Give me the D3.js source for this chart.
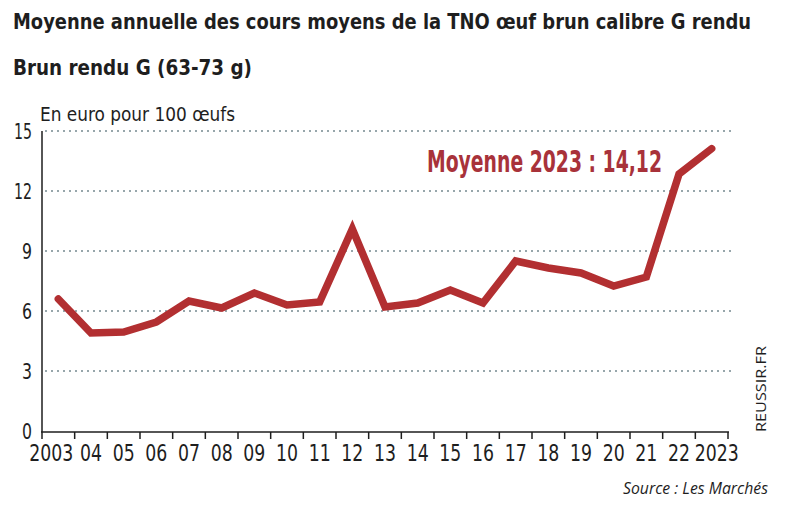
<!DOCTYPE html>
<html>
<head>
<meta charset="utf-8">
<script src="https://cdn.jsdelivr.net/npm/d3@7"></script>
<style>
  body { margin: 0; background: #fff; }
  svg { display: block; }
</style>
</head>
<body>
<div id="chart"></div>
<script>
const years = d3.range(2003, 2024);
const prices = [6.6, 4.9, 4.95, 5.45, 6.5, 6.15, 6.9, 6.3, 6.45, 10.1, 6.2, 6.4, 7.05, 6.4, 8.5, 8.15, 7.9, 7.25, 7.7, 12.85, 14.12];
const yTicks = [0, 3, 6, 9, 12, 15];

const W = 800, H = 529;
const lineColor = "#b22f31";
const textColor = "#1e1e1e";
const fontCond = '"DejaVu Sans Condensed", "DejaVu Sans", sans-serif';

const svg = d3.select("#chart").append("svg")
  .attr("width", W).attr("height", H)
  .style("background", "#fff");

const x = d3.scaleBand().domain(years).range([42, 728]).padding(0);
const y = d3.scaleLinear().domain([0, 15]).range([431, 131]);

// title
svg.append("text")
  .attr("x", 13).attr("y", 29)
  .attr("font-family", fontCond).attr("font-weight", "bold")
  .attr("font-size", 21).attr("fill", textColor)
  .attr("textLength", 738).attr("lengthAdjust", "spacingAndGlyphs")
  .text("Moyenne annuelle des cours moyens de la TNO œuf brun calibre G rendu");

svg.append("text")
  .attr("x", 13).attr("y", 75)
  .attr("font-family", fontCond).attr("font-weight", "bold")
  .attr("font-size", 21).attr("fill", textColor)
  .attr("textLength", 239).attr("lengthAdjust", "spacingAndGlyphs")
  .text("Brun rendu G (63-73 g)");

svg.append("text")
  .attr("x", 40).attr("y", 121)
  .attr("font-family", fontCond)
  .attr("font-size", 20).attr("fill", textColor)
  .attr("textLength", 195).attr("lengthAdjust", "spacingAndGlyphs")
  .text("En euro pour 100 œufs");

// gridlines
svg.append("g")
  .selectAll("line")
  .data(yTicks.filter(d => d > 0))
  .join("line")
  .attr("x1", 45).attr("x2", 731)
  .attr("y1", d => y(d)).attr("y2", d => y(d))
  .attr("stroke", "#97a6ab").attr("stroke-width", 2)
  .attr("stroke-dasharray", "2,4");

// y axis
const yAxisG = svg.append("g").attr("transform", "translate(42,0)")
  .call(d3.axisLeft(y).tickValues(yTicks).tickSize(0).tickPadding(10));
yAxisG.select(".domain").remove();
yAxisG.selectAll("text")
  .attr("font-family", fontCond).attr("font-size", 22)
  .attr("fill", textColor).attr("dy", "0.36em")
  .attr("textLength", d => d >= 10 ? 18 : 10).attr("lengthAdjust", "spacingAndGlyphs");
svg.append("line")
  .attr("x1", 42).attr("x2", 42).attr("y1", y(15)).attr("y2", y(0) + 1)
  .attr("stroke", textColor).attr("stroke-width", 1.5);

// x axis
const lastIdx = years.length - 1;
const xAxisG = svg.append("g").attr("transform", `translate(0,${y(0)})`)
  .call(d3.axisBottom(x).tickSize(0).tickPadding(14)
    .tickFormat((d, i) => (i === 0 || i === lastIdx) ? String(d) : String(d).slice(2)));
xAxisG.select(".domain").remove();
xAxisG.selectAll("text")
  .attr("font-family", fontCond).attr("font-size", 23)
  .attr("fill", textColor)
  .attr("textLength", (d, i) => (i === 0 || i === lastIdx) ? 44 : 22)
  .attr("lengthAdjust", "spacingAndGlyphs")
  .attr("dx", (d, i) => i === 0 ? -7 : (i === lastIdx ? 5 : 0));
svg.append("line")
  .attr("x1", 41).attr("x2", 729).attr("y1", y(0) + 1).attr("y2", y(0) + 1)
  .attr("stroke", textColor).attr("stroke-width", 1.5);
svg.append("g")
  .selectAll("line")
  .data(years.concat([null]))
  .join("line")
  .attr("x1", d => d === null ? x.range()[1] : x(d))
  .attr("x2", d => d === null ? x.range()[1] : x(d))
  .attr("y1", y(0) + 1).attr("y2", y(0) + 8)
  .attr("stroke", textColor).attr("stroke-width", 1.5);

// line
const line = d3.line()
  .x((d, i) => x(years[i]) + x.bandwidth() / 2)
  .y(d => y(d));

svg.append("path")
  .datum(prices)
  .attr("fill", "none")
  .attr("stroke", lineColor)
  .attr("stroke-width", 7.5)
  .attr("stroke-linejoin", "miter")
  .attr("stroke-linecap", "round")
  .attr("d", line);

// annotation
svg.append("text")
  .attr("x", 427).attr("y", 172)
  .attr("font-family", fontCond).attr("font-weight", "bold")
  .attr("font-size", 30).attr("fill", "#a8323a")
  .attr("textLength", 235).attr("lengthAdjust", "spacingAndGlyphs")
  .text("Moyenne 2023 : 14,12");

// credits
svg.append("text")
  .attr("transform", "translate(766,432) rotate(-90)")
  .attr("font-family", '"Open Sans", "Noto Sans", sans-serif')
  .attr("font-size", 14).attr("fill", textColor)
  .attr("textLength", 86).attr("lengthAdjust", "spacingAndGlyphs")
  .text("REUSSIR.FR");

svg.append("text")
  .attr("x", 623).attr("y", 494)
  .attr("font-family", '"Open Sans", "Noto Sans", sans-serif')
  .attr("font-style", "italic")
  .attr("font-size", 16).attr("fill", textColor)
  .attr("textLength", 145).attr("lengthAdjust", "spacingAndGlyphs")
  .text("Source : Les Marchés");
</script>
</body>
</html>
